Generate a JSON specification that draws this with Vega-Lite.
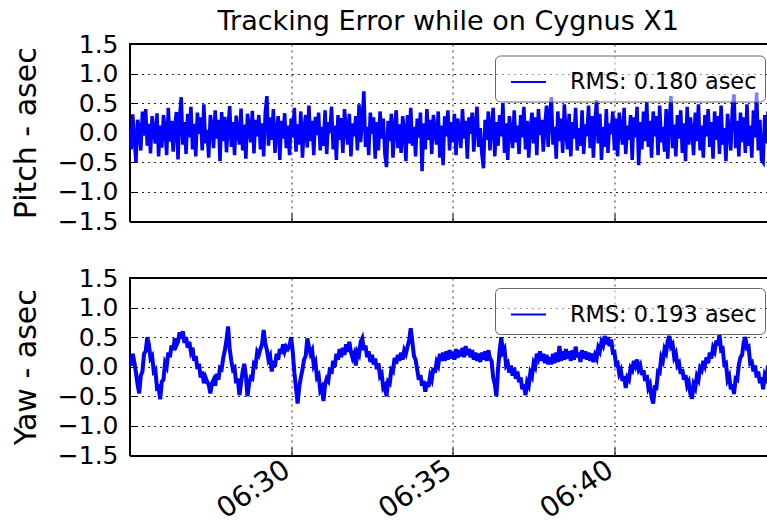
{
 "$schema": "https://vega.github.io/schema/vega-lite/v6.json",
 "padding": {"left": 11.5, "top": 7, "right": 0, "bottom": 0},
 "background": "#ffffff",
 "config": {
  "font": "DejaVu Sans",
  "view": {"stroke": null},
  "axis": {
   "grid": true, "gridColor": "#000000", "gridDash": [2, 4], "gridOpacity": 0.85, "gridWidth": 1,
   "domainColor": "#000000", "domainWidth": 2,
   "tickColor": "#000000", "tickSize": -8, "tickWidth": 1,
   "labelFont": "DejaVu Sans", "labelFontSize": 25, "labelColor": "#000000",
   "titleFont": "DejaVu Sans", "titleFontSize": 30, "titleFontWeight": "normal", "titleColor": "#000000"
  },
  "legend": {
   "orient": "none", "title": null, "symbolType": "stroke", "symbolSize": 1225, "symbolStrokeWidth": 2,
   "labelFont": "DejaVu Sans", "labelFontSize": 22.4, "labelColor": "#000000", "labelOffset": 23, "labelLimit": 0,
   "padding": 8, "symbolOffset": 7, "strokeColor": "#666666", "cornerRadius": 5, "fillColor": "rgba(255,255,255,0.5)"
  }
 },
 "datasets": {"d": [
{"m":25,"p":0.05,"y":0.10},{"m":25.05,"p":-0.28,"y":0.02},{"m":25.1,"p":0.31,"y":0.22},{"m":25.15,"p":-0.12,"y":0.08},{"m":25.2,"p":-0.50,"y":-0.10},{"m":25.25,"p":0.22,"y":-0.30},{"m":25.3,"p":0.08,"y":-0.45},{"m":25.35,"p":-0.30,"y":-0.15},{"m":25.4,"p":0.36,"y":-0.08},{"m":25.45,"p":-0.05,"y":0.22},{"m":25.5,"p":0.40,"y":0.26},{"m":25.55,"p":-0.22,"y":0.50},{"m":25.6,"p":0.15,"y":0.38},{"m":25.65,"p":-0.35,"y":0.14},{"m":25.7,"p":0.28,"y":0.18},{"m":25.75,"p":0.02,"y":-0.08},{"m":25.8,"p":-0.18,"y":-0.05},{"m":25.85,"p":0.33,"y":-0.36},{"m":25.9,"p":-0.40,"y":-0.34},{"m":25.95,"p":0.12,"y":-0.55},
{"m":26,"p":-0.25,"y":-0.25},{"m":26.05,"p":0.30,"y":-0.22},{"m":26.1,"p":0.06,"y":0.06},{"m":26.15,"p":-0.38,"y":0.00},{"m":26.2,"p":0.42,"y":0.24},{"m":26.25,"p":-0.15,"y":0.16},{"m":26.3,"p":0.20,"y":0.36},{"m":26.35,"p":-0.32,"y":0.28},{"m":26.4,"p":0.10,"y":0.48},{"m":26.45,"p":0.35,"y":0.36},{"m":26.5,"p":-0.45,"y":0.42},{"m":26.55,"p":0.25,"y":0.58},{"m":26.6,"p":0.60,"y":0.48},{"m":26.65,"p":-0.20,"y":0.60},{"m":26.7,"p":0.18,"y":0.40},{"m":26.75,"p":-0.36,"y":0.50},{"m":26.8,"p":0.32,"y":0.32},{"m":26.85,"p":-0.08,"y":0.42},{"m":26.9,"p":0.44,"y":0.25},{"m":26.95,"p":-0.28,"y":0.32},
{"m":27,"p":0.15,"y":0.10},{"m":27.05,"p":-0.40,"y":0.18},{"m":27.1,"p":0.34,"y":-0.04},{"m":27.15,"p":-0.02,"y":0.05},{"m":27.2,"p":0.26,"y":-0.18},{"m":27.25,"p":-0.30,"y":-0.08},{"m":27.3,"p":0.48,"y":-0.28},{"m":27.35,"p":-0.18,"y":-0.18},{"m":27.4,"p":0.05,"y":-0.25},{"m":27.45,"p":-0.42,"y":-0.30},{"m":27.5,"p":0.30,"y":-0.45},{"m":27.55,"p":0.12,"y":-0.28},{"m":27.6,"p":-0.26,"y":-0.22},{"m":27.65,"p":0.38,"y":-0.32},{"m":27.7,"p":-0.10,"y":-0.12},{"m":27.75,"p":0.22,"y":-0.22},{"m":27.8,"p":-0.48,"y":-0.02},{"m":27.85,"p":0.35,"y":-0.04},{"m":27.9,"p":-0.14,"y":0.15},{"m":27.95,"p":0.27,"y":0.28},
{"m":28,"p":-0.33,"y":0.45},{"m":28.05,"p":0.10,"y":0.68},{"m":28.1,"p":0.45,"y":0.30},{"m":28.15,"p":-0.24,"y":0.10},{"m":28.2,"p":0.18,"y":-0.05},{"m":28.25,"p":-0.38,"y":-0.02},{"m":28.3,"p":0.29,"y":-0.28},{"m":28.35,"p":0.02,"y":-0.20},{"m":28.4,"p":-0.20,"y":-0.48},{"m":28.45,"p":0.41,"y":-0.28},{"m":28.5,"p":-0.30,"y":-0.08},{"m":28.55,"p":0.14,"y":0.05},{"m":28.6,"p":-0.44,"y":-0.15},{"m":28.65,"p":0.32,"y":-0.50},{"m":28.7,"p":0.08,"y":-0.28},{"m":28.75,"p":-0.16,"y":-0.18},{"m":28.8,"p":0.37,"y":-0.20},{"m":28.85,"p":-0.35,"y":0.05},{"m":28.9,"p":0.22,"y":0.02},{"m":28.95,"p":-0.06,"y":0.25},
{"m":29,"p":0.30,"y":0.20},{"m":29.05,"p":-0.28,"y":0.30},{"m":29.1,"p":0.16,"y":0.38},{"m":29.15,"p":-0.40,"y":0.62},{"m":29.2,"p":0.35,"y":0.40},{"m":29.25,"p":0.62,"y":0.28},{"m":29.3,"p":-0.22,"y":0.12},{"m":29.35,"p":0.26,"y":0.18},{"m":29.4,"p":-0.12,"y":-0.08},{"m":29.45,"p":0.40,"y":0.10},{"m":29.5,"p":-0.34,"y":0.00},{"m":29.55,"p":0.04,"y":0.22},{"m":29.6,"p":0.28,"y":0.12},{"m":29.65,"p":-0.46,"y":0.30},{"m":29.7,"p":0.20,"y":0.22},{"m":29.75,"p":-0.10,"y":0.38},{"m":29.8,"p":0.33,"y":0.26},{"m":29.85,"p":-0.26,"y":0.34},{"m":29.9,"p":0.12,"y":0.30},{"m":29.95,"p":-0.38,"y":0.35},
{"m":30,"p":0.24,"y":0.50},{"m":30.05,"p":-0.08,"y":0.25},{"m":30.1,"p":0.42,"y":-0.10},{"m":30.15,"p":-0.32,"y":-0.35},{"m":30.2,"p":0.14,"y":-0.62},{"m":30.25,"p":-0.20,"y":-0.35},{"m":30.3,"p":0.36,"y":-0.18},{"m":30.35,"p":-0.42,"y":-0.05},{"m":30.4,"p":0.06,"y":0.12},{"m":30.45,"p":0.30,"y":0.18},{"m":30.5,"p":-0.25,"y":0.48},{"m":30.55,"p":0.46,"y":0.34},{"m":30.6,"p":-0.14,"y":0.22},{"m":30.65,"p":0.20,"y":0.28},{"m":30.7,"p":-0.38,"y":0.02},{"m":30.75,"p":0.27,"y":0.08},{"m":30.8,"p":-0.04,"y":-0.18},{"m":30.85,"p":0.34,"y":-0.14},{"m":30.9,"p":-0.30,"y":-0.40},{"m":30.95,"p":0.10,"y":-0.35},
{"m":31,"p":-0.22,"y":-0.58},{"m":31.05,"p":0.38,"y":-0.30},{"m":31.1,"p":-0.36,"y":-0.20},{"m":31.15,"p":0.18,"y":-0.24},{"m":31.2,"p":0.00,"y":-0.02},{"m":31.25,"p":0.44,"y":-0.12},{"m":31.3,"p":-0.28,"y":0.10},{"m":31.35,"p":0.12,"y":0.00},{"m":31.4,"p":-0.46,"y":0.22},{"m":31.45,"p":0.30,"y":0.12},{"m":31.5,"p":-0.12,"y":0.30},{"m":31.55,"p":0.25,"y":0.16},{"m":31.6,"p":-0.34,"y":0.32},{"m":31.65,"p":0.40,"y":0.20},{"m":31.7,"p":0.06,"y":0.38},{"m":31.75,"p":-0.20,"y":0.25},{"m":31.8,"p":0.32,"y":0.42},{"m":31.85,"p":-0.40,"y":0.25},{"m":31.9,"p":0.16,"y":0.15},{"m":31.95,"p":-0.06,"y":0.22},
{"m":32,"p":0.28,"y":0.02},{"m":32.05,"p":-0.30,"y":0.25},{"m":32.1,"p":0.48,"y":0.20},{"m":32.15,"p":-0.16,"y":0.42},{"m":32.2,"p":0.22,"y":0.48},{"m":32.25,"p":0.70,"y":0.28},{"m":32.3,"p":-0.24,"y":0.36},{"m":32.35,"p":0.10,"y":0.16},{"m":32.4,"p":-0.38,"y":0.26},{"m":32.45,"p":0.34,"y":0.08},{"m":32.5,"p":-0.02,"y":0.20},{"m":32.55,"p":0.26,"y":0.04},{"m":32.6,"p":-0.44,"y":0.14},{"m":32.65,"p":0.18,"y":-0.04},{"m":32.7,"p":-0.30,"y":0.06},{"m":32.75,"p":0.36,"y":-0.16},{"m":32.8,"p":-0.10,"y":-0.12},{"m":32.85,"p":0.24,"y":-0.36},{"m":32.9,"p":-0.36,"y":-0.32},{"m":32.95,"p":-0.58,"y":-0.50},
{"m":33,"p":0.20,"y":-0.25},{"m":33.05,"p":-0.14,"y":-0.28},{"m":33.1,"p":0.32,"y":-0.05},{"m":33.15,"p":-0.42,"y":-0.08},{"m":33.2,"p":0.08,"y":0.15},{"m":33.25,"p":0.38,"y":0.05},{"m":33.3,"p":-0.26,"y":0.20},{"m":33.35,"p":0.14,"y":0.10},{"m":33.4,"p":-0.34,"y":0.24},{"m":33.45,"p":0.28,"y":0.12},{"m":33.5,"p":0.04,"y":0.28},{"m":33.55,"p":-0.48,"y":0.22},{"m":33.6,"p":0.30,"y":0.34},{"m":33.65,"p":-0.18,"y":0.45},{"m":33.7,"p":0.42,"y":0.65},{"m":33.75,"p":-0.22,"y":0.42},{"m":33.8,"p":0.10,"y":0.18},{"m":33.85,"p":-0.40,"y":0.12},{"m":33.9,"p":0.24,"y":-0.05},{"m":33.95,"p":-0.08,"y":-0.22},
{"m":34,"p":0.34,"y":-0.14},{"m":34.05,"p":-0.65,"y":-0.32},{"m":34.1,"p":0.16,"y":-0.24},{"m":34.15,"p":-0.28,"y":-0.42},{"m":34.2,"p":0.40,"y":-0.26},{"m":34.25,"p":-0.12,"y":-0.34},{"m":34.3,"p":0.22,"y":-0.15},{"m":34.35,"p":-0.36,"y":-0.22},{"m":34.4,"p":0.30,"y":-0.02},{"m":34.45,"p":0.02,"y":-0.10},{"m":34.5,"p":-0.20,"y":0.08},{"m":34.55,"p":0.36,"y":0.02},{"m":34.6,"p":-0.42,"y":0.22},{"m":34.65,"p":0.12,"y":0.10},{"m":34.7,"p":-0.55,"y":0.24},{"m":34.75,"p":0.28,"y":0.10},{"m":34.8,"p":-0.06,"y":0.26},{"m":34.85,"p":0.38,"y":0.12},{"m":34.9,"p":-0.30,"y":0.28},{"m":34.95,"p":0.18,"y":0.14},
{"m":35,"p":-0.16,"y":0.25},{"m":35.05,"p":0.32,"y":0.12},{"m":35.1,"p":-0.38,"y":0.30},{"m":35.15,"p":0.24,"y":0.15},{"m":35.2,"p":0.06,"y":0.28},{"m":35.25,"p":-0.26,"y":0.18},{"m":35.3,"p":0.40,"y":0.32},{"m":35.35,"p":-0.10,"y":0.16},{"m":35.4,"p":0.20,"y":0.35},{"m":35.45,"p":-0.44,"y":0.20},{"m":35.5,"p":0.26,"y":0.30},{"m":35.55,"p":-0.02,"y":0.16},{"m":35.6,"p":0.34,"y":0.28},{"m":35.65,"p":-0.32,"y":0.12},{"m":35.7,"p":0.14,"y":0.24},{"m":35.75,"p":0.44,"y":0.10},{"m":35.8,"p":-0.24,"y":0.22},{"m":35.85,"p":0.08,"y":0.08},{"m":35.9,"p":-0.36,"y":0.24},{"m":35.95,"p":-0.60,"y":0.12},
{"m":36,"p":0.22,"y":0.26},{"m":36.05,"p":-0.12,"y":0.10},{"m":36.1,"p":0.36,"y":0.28},{"m":36.15,"p":-0.30,"y":0.14},{"m":36.2,"p":0.10,"y":0.10},{"m":36.25,"p":0.42,"y":-0.18},{"m":36.3,"p":-0.40,"y":-0.30},{"m":36.35,"p":0.18,"y":-0.50},{"m":36.4,"p":-0.22,"y":-0.05},{"m":36.45,"p":0.30,"y":0.28},{"m":36.5,"p":-0.06,"y":0.50},{"m":36.55,"p":0.50,"y":0.25},{"m":36.6,"p":-0.34,"y":0.30},{"m":36.65,"p":0.16,"y":0.02},{"m":36.7,"p":-0.46,"y":0.06},{"m":36.75,"p":0.28,"y":-0.10},{"m":36.8,"p":0.04,"y":0.02},{"m":36.85,"p":-0.26,"y":-0.15},{"m":36.9,"p":0.38,"y":-0.02},{"m":36.95,"p":-0.16,"y":-0.20},
{"m":37,"p":0.12,"y":-0.08},{"m":37.05,"p":-0.36,"y":-0.26},{"m":37.1,"p":0.30,"y":-0.18},{"m":37.15,"p":-0.08,"y":-0.38},{"m":37.2,"p":0.44,"y":-0.30},{"m":37.25,"p":-0.28,"y":-0.48},{"m":37.3,"p":0.20,"y":-0.26},{"m":37.35,"p":-0.42,"y":-0.32},{"m":37.4,"p":0.06,"y":-0.10},{"m":37.45,"p":0.34,"y":-0.16},{"m":37.5,"p":-0.18,"y":0.06},{"m":37.55,"p":0.26,"y":0.00},{"m":37.6,"p":-0.38,"y":0.22},{"m":37.65,"p":0.40,"y":0.14},{"m":37.7,"p":-0.04,"y":0.26},{"m":37.75,"p":0.22,"y":0.10},{"m":37.8,"p":-0.32,"y":0.22},{"m":37.85,"p":0.14,"y":0.06},{"m":37.9,"p":0.46,"y":0.20},{"m":37.95,"p":-0.24,"y":0.04},
{"m":38,"p":0.30,"y":0.16},{"m":38.05,"p":0.60,"y":0.04},{"m":38.1,"p":-0.20,"y":0.22},{"m":38.15,"p":0.10,"y":0.06},{"m":38.2,"p":-0.44,"y":0.24},{"m":38.25,"p":0.36,"y":0.08},{"m":38.3,"p":-0.14,"y":0.35},{"m":38.35,"p":0.24,"y":0.10},{"m":38.4,"p":-0.34,"y":0.26},{"m":38.45,"p":0.48,"y":0.12},{"m":38.5,"p":0.02,"y":0.30},{"m":38.55,"p":-0.28,"y":0.14},{"m":38.6,"p":0.32,"y":0.26},{"m":38.65,"p":-0.40,"y":0.10},{"m":38.7,"p":0.18,"y":0.28},{"m":38.75,"p":-0.10,"y":0.12},{"m":38.8,"p":0.42,"y":0.34},{"m":38.85,"p":-0.30,"y":0.16},{"m":38.9,"p":0.08,"y":0.24},{"m":38.95,"p":-0.22,"y":0.08},
{"m":39,"p":0.38,"y":0.28},{"m":39.05,"p":-0.36,"y":0.14},{"m":39.1,"p":0.14,"y":0.26},{"m":39.15,"p":-0.06,"y":0.12},{"m":39.2,"p":0.46,"y":0.24},{"m":39.25,"p":-0.26,"y":0.10},{"m":39.3,"p":0.28,"y":0.22},{"m":39.35,"p":-0.42,"y":0.08},{"m":39.4,"p":0.20,"y":0.20},{"m":39.45,"p":0.55,"y":0.14},{"m":39.5,"p":-0.18,"y":0.32},{"m":39.55,"p":0.32,"y":0.26},{"m":39.6,"p":-0.46,"y":0.42},{"m":39.65,"p":0.10,"y":0.36},{"m":39.7,"p":-0.24,"y":0.52},{"m":39.75,"p":0.40,"y":0.38},{"m":39.8,"p":-0.34,"y":0.50},{"m":39.85,"p":0.16,"y":0.35},{"m":39.9,"p":-0.02,"y":0.46},{"m":39.95,"p":0.36,"y":0.24},
{"m":40,"p":-0.30,"y":0.25},{"m":40.05,"p":0.24,"y":0.04},{"m":40.1,"p":-0.40,"y":0.06},{"m":40.15,"p":0.34,"y":-0.12},{"m":40.2,"p":0.04,"y":-0.06},{"m":40.25,"p":-0.20,"y":-0.24},{"m":40.3,"p":0.42,"y":-0.16},{"m":40.35,"p":-0.36,"y":-0.36},{"m":40.4,"p":0.12,"y":-0.18},{"m":40.45,"p":-0.12,"y":-0.22},{"m":40.5,"p":0.30,"y":-0.02},{"m":40.55,"p":-0.46,"y":-0.06},{"m":40.6,"p":0.26,"y":0.10},{"m":40.65,"p":-0.08,"y":0.02},{"m":40.7,"p":0.44,"y":0.12},{"m":40.75,"p":-0.55,"y":-0.04},{"m":40.8,"p":0.18,"y":0.02},{"m":40.85,"p":-0.28,"y":-0.14},{"m":40.9,"p":0.36,"y":-0.06},{"m":40.95,"p":-0.14,"y":-0.24},
{"m":41,"p":0.52,"y":-0.14},{"m":41.05,"p":-0.24,"y":-0.36},{"m":41.1,"p":0.20,"y":-0.30},{"m":41.15,"p":-0.42,"y":-0.52},{"m":41.2,"p":0.36,"y":-0.62},{"m":41.25,"p":-0.06,"y":-0.35},{"m":41.3,"p":0.28,"y":-0.36},{"m":41.35,"p":-0.38,"y":-0.08},{"m":41.4,"p":0.46,"y":-0.10},{"m":41.45,"p":-0.16,"y":0.16},{"m":41.5,"p":0.10,"y":0.10},{"m":41.55,"p":-0.32,"y":0.30},{"m":41.6,"p":0.40,"y":0.24},{"m":41.65,"p":-0.44,"y":0.44},{"m":41.7,"p":0.22,"y":0.52},{"m":41.75,"p":0.62,"y":0.34},{"m":41.8,"p":-0.26,"y":0.38},{"m":41.85,"p":0.14,"y":0.16},{"m":41.9,"p":-0.40,"y":0.22},{"m":41.95,"p":0.30,"y":0.02},
{"m":42,"p":-0.10,"y":0.06},{"m":42.05,"p":0.38,"y":-0.12},{"m":42.1,"p":-0.34,"y":-0.04},{"m":42.15,"p":0.16,"y":-0.22},{"m":42.2,"p":-0.48,"y":-0.14},{"m":42.25,"p":0.44,"y":-0.32},{"m":42.3,"p":-0.20,"y":-0.26},{"m":42.35,"p":0.26,"y":-0.46},{"m":42.4,"p":0.02,"y":-0.54},{"m":42.45,"p":-0.38,"y":-0.30},{"m":42.5,"p":0.34,"y":-0.36},{"m":42.55,"p":-0.14,"y":-0.16},{"m":42.6,"p":0.48,"y":-0.22},{"m":42.65,"p":-0.30,"y":-0.02},{"m":42.7,"p":0.12,"y":-0.06},{"m":42.75,"p":-0.42,"y":0.10},{"m":42.8,"p":0.30,"y":0.02},{"m":42.85,"p":-0.06,"y":0.16},{"m":42.9,"p":0.40,"y":0.06},{"m":42.95,"p":-0.24,"y":0.24},
{"m":43,"p":0.18,"y":0.14},{"m":43.05,"p":-0.44,"y":0.32},{"m":43.1,"p":0.36,"y":0.26},{"m":43.15,"p":-0.12,"y":0.44},{"m":43.2,"p":0.28,"y":0.36},{"m":43.25,"p":-0.36,"y":0.54},{"m":43.3,"p":0.46,"y":0.28},{"m":43.35,"p":-0.20,"y":0.30},{"m":43.4,"p":0.08,"y":0.04},{"m":43.45,"p":-0.48,"y":0.06},{"m":43.5,"p":0.32,"y":-0.22},{"m":43.55,"p":0.04,"y":-0.16},{"m":43.6,"p":-0.30,"y":-0.38},{"m":43.65,"p":0.42,"y":-0.30},{"m":43.7,"p":0.65,"y":-0.46},{"m":43.75,"p":-0.26,"y":-0.20},{"m":43.8,"p":0.20,"y":-0.22},{"m":43.85,"p":-0.40,"y":0.04},{"m":43.9,"p":0.34,"y":0.16},{"m":43.95,"p":-0.16,"y":0.20},
{"m":44,"p":0.26,"y":0.42},{"m":44.05,"p":-0.34,"y":0.50},{"m":44.1,"p":0.48,"y":0.32},{"m":44.15,"p":-0.22,"y":0.34},{"m":44.2,"p":0.12,"y":0.06},{"m":44.25,"p":-0.42,"y":0.08},{"m":44.3,"p":0.38,"y":-0.08},{"m":44.35,"p":-0.08,"y":0.02},{"m":44.4,"p":0.68,"y":-0.18},{"m":44.45,"p":-0.30,"y":-0.08},{"m":44.5,"p":0.22,"y":-0.28},{"m":44.55,"p":-0.46,"y":-0.18},{"m":44.6,"p":-0.50,"y":-0.38},{"m":44.65,"p":0.30,"y":-0.14},{"m":44.7,"p":-0.18,"y":-0.20},{"m":44.75,"p":0.36,"y":0.02}
 ]},
 "spacing": 31,
 "resolve": {"scale": {"color": "independent"}},
 "vconcat": [
  {
   "width": 637.5, "height": 177.5,
   "title": {"text": "Tracking Error while on Cygnus X1", "fontSize": 27, "fontWeight": "normal", "font": "DejaVu Sans", "color": "#000000", "frame": "group", "offset": -3.5},
   "data": {"name": "d"},
   "layer": [
    {
     "mark": {"type": "line", "strokeWidth": 3.5, "clip": true},
     "encoding": {
      "x": {"field": "m", "type": "quantitative", "scale": {"domain": [25, 44.72], "nice": false, "zero": false},
            "axis": {"values": [30, 35, 40], "labels": false, "title": null}},
      "y": {"field": "p", "type": "quantitative", "scale": {"domain": [-1.5, 1.5], "nice": false},
            "axis": {"values": [-1.5, -1, -0.5, 0, 0.5, 1, 1.5], "format": ".1f", "title": "Pitch - asec", "labelPadding": 19.5, "titlePadding": 15.5}},
      "color": {"datum": "RMS: 0.180 asec", "type": "nominal", "scale": {"range": ["#0000ff"]},
                "legend": {"legendX": 365.5, "legendY": 11.5}}
     }
    },
    {
     "mark": {"type": "rule", "color": "#000000", "strokeWidth": 2},
     "encoding": {"y": {"datum": 1.5, "type": "quantitative",
            "axis": {"values": [-1.5, -1, -0.5, 0, 0.5, 1, 1.5], "format": ".1f", "title": "Pitch - asec", "labelPadding": 19.5, "titlePadding": 15.5}}}
    }
   ]
  },
  {
   "width": 637.5, "height": 177.5,
   "data": {"name": "d"},
   "layer": [
    {
     "mark": {"type": "line", "strokeWidth": 4, "clip": true},
     "encoding": {
      "x": {"field": "m", "type": "quantitative", "scale": {"domain": [25, 44.72], "nice": false, "zero": false},
            "axis": {"values": [30, 35, 40], "title": null, "labelExpr": "'06:' + datum.value", "labelAngle": -34, "labelAlign": "right", "labelBaseline": "top", "labelPadding": 8, "labelOffset": -12, "labelFontSize": 28}},
      "y": {"field": "y", "type": "quantitative", "scale": {"domain": [-1.5, 1.5], "nice": false},
            "axis": {"values": [-1.5, -1, -0.5, 0, 0.5, 1, 1.5], "format": ".1f", "title": "Yaw - asec", "labelPadding": 19.5, "titlePadding": 15.5}},
      "color": {"datum": "RMS: 0.193 asec", "type": "nominal", "scale": {"range": ["#0000ff"]},
                "legend": {"legendX": 365.5, "legendY": 10}}
     }
    },
    {
     "mark": {"type": "rule", "color": "#000000", "strokeWidth": 2},
     "encoding": {"y": {"datum": 1.5, "type": "quantitative",
            "axis": {"values": [-1.5, -1, -0.5, 0, 0.5, 1, 1.5], "format": ".1f", "title": "Yaw - asec", "labelPadding": 19.5, "titlePadding": 15.5}}}
    }
   ]
  }
 ]
}
